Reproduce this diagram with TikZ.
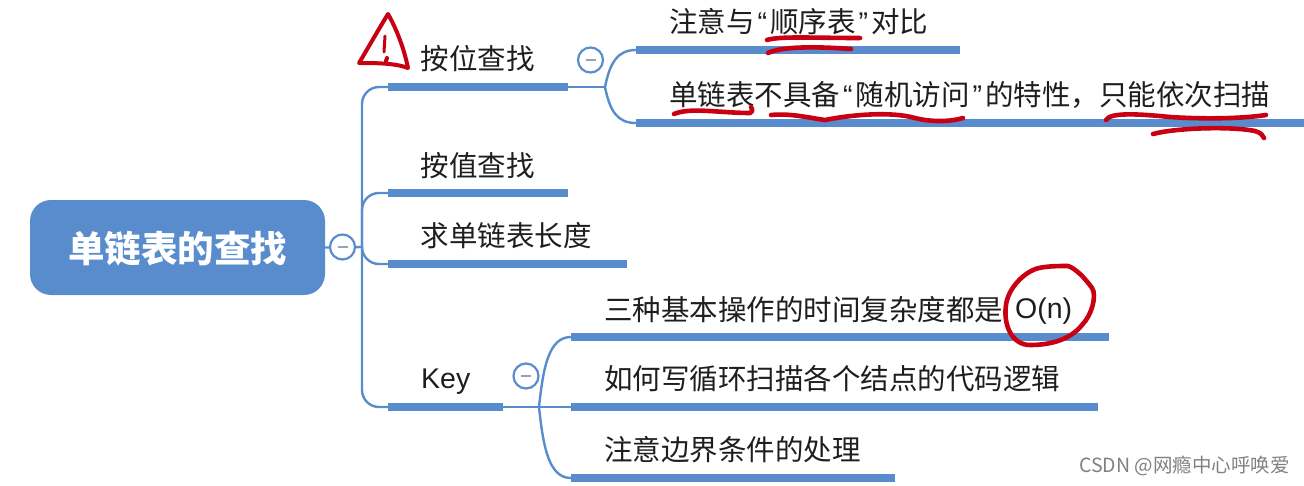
\documentclass[tikz,border=0pt]{standalone}
\usepackage{fontspec}
\setmainfont{Noto Sans CJK SC}
\newfontfamily\latinf{Liberation Sans}
\definecolor{mapblue}{RGB}{88,140,204}
\definecolor{inkred}{RGB}{200,0,18}
\definecolor{txtdark}{RGB}{30,30,30}
\definecolor{minusc}{RGB}{150,160,195}
\newcommand{\oq}{\makebox[15.5pt]{\latinf “}}
\newcommand{\cq}{\makebox[15.5pt]{\latinf ”}}
\tikzset{
  bar/.style={fill=mapblue,draw=none,inner sep=0pt,minimum height=8pt,rectangle},
  link/.style={draw=mapblue,line width=2.4pt},
  trunkline/.style={draw=mapblue,line width=2.4pt,rounded corners=17pt},
  lbl/.style={anchor=west,inner sep=0pt,text=txtdark,font=\fontsize{28.5}{28.5}\selectfont},
  toggle/.style={circle,draw=mapblue,line width=2.2pt,fill=white,minimum size=25pt,inner sep=0pt},
  ink/.style={draw=inkred,line width=4.6pt,line cap=round,line join=round},
}
\begin{document}
\begin{tikzpicture}[x=1pt,y=-1pt]
\useasboundingbox (0,0) rectangle (1304,485);
% root
\node[fill=mapblue,draw=none,rounded corners=21pt,minimum width=295pt,minimum height=95pt,inner sep=0pt] (root) at (177.5,247.5) {};
\node[text=white,inner sep=0pt,font=\fontsize{36.5}{36.5}\selectfont\bfseries] (roottxt) at (177.5,249) {单链表的查找};
% bars
\node[bar,minimum width=180pt] (b1) at (478,87) {};
\node[bar,minimum width=180pt] (b2) at (478,193) {};
\node[bar,minimum width=239pt] (b3) at (507.5,264) {};
\node[bar,minimum width=115pt] (b4) at (445.5,407) {};
\node[bar,minimum width=324pt] (b11) at (798,50) {};
\node[bar,minimum width=668pt] (b12) at (970,123) {};
\node[bar,minimum width=538pt] (b41) at (840,337) {};
\node[bar,minimum width=527pt] (b42) at (834.5,407) {};
\node[bar,minimum width=324pt] (b43) at (733,478) {};
% junctions
\coordinate (trunk) at (362,247);
\coordinate (j1) at (605,87);
\coordinate (j4) at (539,407);
% connectors
\draw[link] (root.east) -- (trunk);
\draw[trunkline] (trunk) |- (b1.west);
\draw[trunkline] (trunk) |- (b2.west);
\draw[trunkline] (trunk) |- (b3.west);
\draw[trunkline] (trunk) |- (b4.west);
\draw[link] (b1.east) -- (j1);
\draw[link] (j1) .. controls (610,62) and (618,50) .. (b11.west);
\draw[link] (j1) .. controls (610,112) and (618,123) .. (b12.west);
\draw[link] (b4.east) -- (j4);
\draw[link] (j4) .. controls (543,370) and (548,337) .. (b41.west);
\draw[link] (j4) -- (b42.west);
\draw[link] (j4) .. controls (543,444) and (548,478) .. (b43.west);
% toggles
\node[toggle] (t0) at (342.5,247) {};
\node[toggle] (t1) at (590.5,60) {};
\node[toggle] (t4) at (526,376) {};
\foreach \t in {t0,t1,t4} \draw[minusc,line width=2pt] ([xshift=-5pt]\t.center) -- ([xshift=5pt]\t.center);
% labels
\node[lbl] (l1) at (420.5,59) {按位查找};
\node[lbl] (l2) at (420.5,166) {按值查找};
\node[lbl] (l3) at (420.5,236) {求单链表长度};
\node[lbl] (l4) at (421,382) {\latinf Key};
\node[lbl] (l11) at (669,22) {注意与\oq 顺序表\cq 对比};
\node[lbl] (l12) at (669,95) {单链表不具备\oq 随机访问\cq 的特性，只能依次扫描};
\node[lbl] (l41) at (604,310) {三种基本操作的时间复杂度都是};
\node[lbl] (l41b) at (1015,311) {\latinf O(n)};
\node[lbl] (l42) at (604,379) {如何写循环扫描各个结点的代码逻辑};
\node[lbl] (l43) at (604,450) {注意边界条件的处理};
\node[anchor=east,inner sep=0pt,text=black!50,font=\fontsize{19.5}{19.5}\selectfont] (wm) at (1290,466) {CSDN @网瘾中心呼唤爱};
% red ink: warning triangle
\draw[ink,line width=4pt] (388,14) .. controls (377,32) and (368,48) .. (359,63) .. controls (375,63) and (395,63) .. (408,68) .. controls (404,48) and (396,28) .. (388,14) -- cycle;
\draw[ink,line width=3pt] (385,36) -- (384,52);
\draw[ink,line width=4pt] (387,58) -- (386,61);
% red ink: underlines
\draw[ink] (767,40) .. controls (780,36) and (810,38) .. (860,38);
\draw[ink] (768,53) .. controls (780,47) and (810,46) .. (851,49);
\draw[ink] (674,114) .. controls (690,107) and (720,113) .. (750,113) .. controls (753,111) and (753,109) .. (751,107);
\draw[ink] (771,115) .. controls (790,113) and (810,118) .. (825,120) .. controls (850,115) and (890,111) .. (915,118) .. controls (930,122) and (950,122) .. (963,118);
\draw[ink] (1106,120) .. controls (1110,112) and (1140,114) .. (1170,117) .. controls (1200,119) and (1240,119) .. (1266,115);
\draw[ink] (1153,134) .. controls (1175,128) and (1230,126) .. (1255,131) .. controls (1261,133) and (1263,135) .. (1264,138);
% red ink: circle around O(n)
\draw[ink] (1039,268) .. controls (1025,271) and (1008,288) .. (1006,305) .. controls (1003,325) and (1012,345) .. (1030,345) .. controls (1050,345) and (1070,340) .. (1082,325) .. controls (1092,315) and (1097,295) .. (1092,288) .. controls (1085,278) and (1075,268) .. (1068,266) .. controls (1060,266) and (1048,266) .. (1039,268);
\end{tikzpicture}
\end{document}
